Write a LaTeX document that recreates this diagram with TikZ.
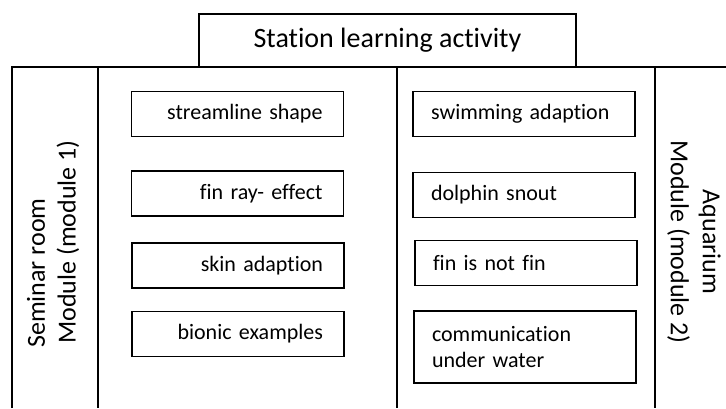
\documentclass[tikz,border=0pt]{standalone}
\usepackage{fontspec}
\setmainfont[Ligatures=NoCommon]{Carlito}
\begin{document}
\begin{tikzpicture}[x=0.5pt, y=-0.5pt, line width=0.8pt,
    leftbox/.style={draw, minimum width=106pt, minimum height=22.5pt, inner xsep=10.5pt,
      text width=85pt, align=right, font=\fontsize{11}{13}\selectfont},
    rightbox/.style={draw, minimum width=111pt, minimum height=22.5pt, inner xsep=9pt,
      text width=93pt, align=left, font=\fontsize{11}{13}\selectfont},
    sidelabel/.style={font=\fontsize{13}{16}\selectfont, align=center}]
    \useasboundingbox (0, 0) rectangle (726, 408);

    \node[draw, minimum width=188.5pt, minimum height=26.5pt, font=\fontsize{14}{16}\selectfont]
      (title) at (387.5, 40.5) {Station learning activity};

    % frame and columns
    \coordinate (topleft) at (12, 67);
    \coordinate (topright) at (726, 67);
    \draw (12, 408) -- (topleft) -- (topright);
    \draw (98, 67) -- (98, 408);
    \draw (397, 67) -- (397, 408);
    \draw (655, 67) -- (655, 408);

    \node[sidelabel, rotate=90] (seminar) at (36, 273) {Seminar room};
    \node[sidelabel, rotate=90] (module1) at (68, 242) {Module (module 1)};
    \node[sidelabel, rotate=-90] (aquarium) at (694, 242) {Aquarium\\Module (module 2)};

    % seminar room stations
    \node[leftbox] (streamline) at (237.5, 114) {streamline shape};
    \node[leftbox] (finray) at (237.5, 193.5) {fin ray- effect};
    \node[leftbox] (skin) at (238, 265.5) {skin adaption};
    \node[leftbox] (bionic) at (238, 334) {bionic examples};

    % aquarium stations
    \node[rightbox] (swimming) at (524, 114) {swimming adaption};
    \node[rightbox] (snout) at (524, 195) {dolphin snout};
    \node[rightbox] (notfin) at (526, 263) {fin is not fin};
    \node[rightbox, minimum height=36pt] (communication) at (525, 347) {communication\\under water};
  \end{tikzpicture}
\end{document}
